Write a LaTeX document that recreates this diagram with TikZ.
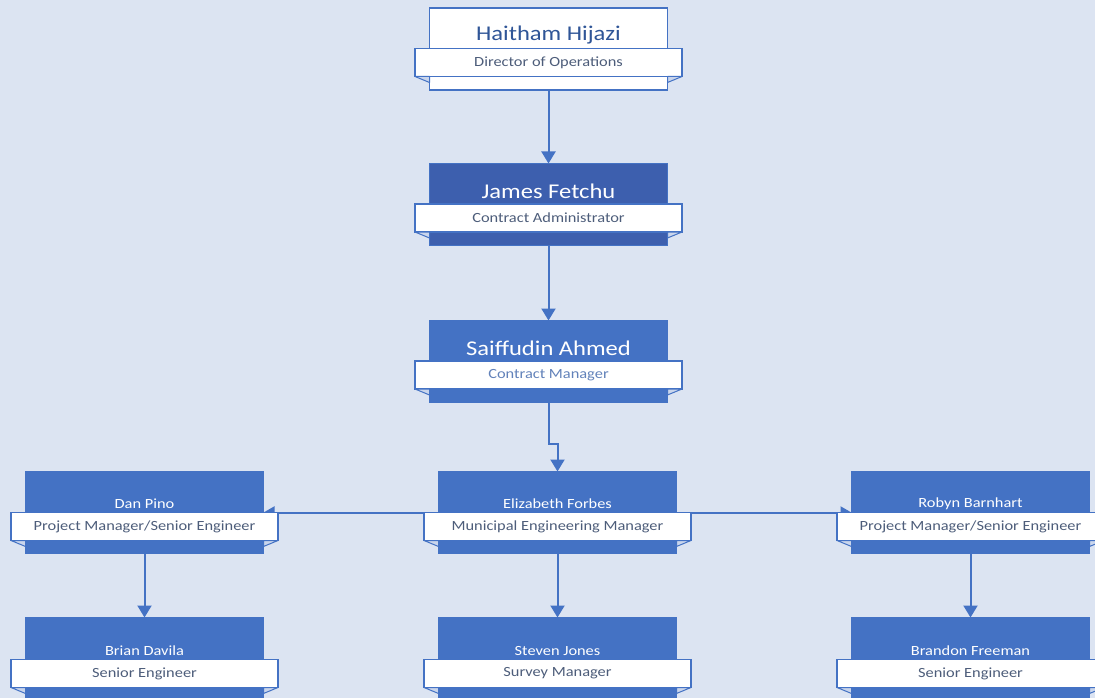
\documentclass[tikz,border=0pt]{standalone}
\usepackage{fontspec}
\setmainfont{Carlito}[FakeStretch=1.17]
\usetikzlibrary{arrows.meta, positioning, calc}
\definecolor{bgblue}{HTML}{DCE4F2}
\definecolor{cardblue}{HTML}{4472C4}
\definecolor{darkcard}{HTML}{3D5FAE}
\definecolor{namecol}{HTML}{2F5597}
\definecolor{titlecol}{HTML}{4D5D7A}
\definecolor{lighttitle}{HTML}{6282BA}
\definecolor{foldcol}{HTML}{C9D5EC}

\begin{document}
\begin{tikzpicture}[x=1pt, y=-1pt,
  card/.style={draw=cardblue, fill=cardblue, minimum width=238pt, minimum height=82pt, inner sep=0pt, outer sep=0pt},
  banner/.style={draw=cardblue, fill=white, line width=1.3pt, minimum width=267pt, minimum height=28pt, inner sep=0pt, outer sep=0pt, text=titlecol, font=\fontsize{14}{16}\selectfont},
  bigname/.style={text=white, font=\fontsize{21}{24}\selectfont},
  smallname/.style={text=white, font=\fontsize{14}{16}\selectfont},
  fold/.style={draw=cardblue, fill=foldcol, line width=1pt, line join=round},
  arrow/.style={-{Triangle[length=12pt, width=14pt]}, draw=cardblue, line width=2pt},
  sidearrow/.style={-{Triangle[length=11pt, width=12pt]}, draw=cardblue, line width=2pt}
]
\useasboundingbox (0,0) rectangle (1095,698);
\clip (0,0) rectangle (1095,698);
\fill[bgblue] (0,0) rectangle (1095,698);

% cards
\node[card, fill=white, line width=1.5pt] (hh) at (548.5,49) {};
\node[card, fill=darkcard] (jf) at (548.5,204.5) {};
\node[card] (sa) at (548.5,361.5) {};
\node[card] (dp) at (144.5,512.5) {};
\node[card] (ef) at (557.5,512.5) {};
\node[card] (rb) at (970.5,512.5) {};
\node[card] (bd) at (144.5,658.5) {};
\node[card] (sj) at (557.5,658.5) {};
\node[card] (bf) at (970.5,658.5) {};

% connectors
\draw[arrow] (hh) -- (jf);
\draw[arrow] (jf) -- (sa);
\draw[arrow] (sa.south) -- ++(0,41) -| (ef.north);
\draw[sidearrow] (ef.west) -- (dp.east);
\draw[sidearrow] (ef.east) -- (rb.west);
\draw[arrow] (dp) -- (bd);
\draw[arrow] (ef) -- (sj);
\draw[arrow] (rb) -- (bf);

% role banners
\node[banner] (hhrole) at (548.5,62.5) {Director of Operations};
\node[banner] (jfrole) at (548.5,218) {Contract Administrator};
\node[banner, text=lighttitle] (sarole) at (548.5,375) {Contract Manager};
\node[banner] (dprole) at (144.5,526.5) {Project Manager/Senior Engineer};
\node[banner] (efrole) at (557.5,526.5) {Municipal Engineering Manager};
\node[banner] (rbrole) at (970.5,526.5) {Project Manager/Senior Engineer};
\node[banner] (bdrole) at (144.5,673.5) {Senior Engineer};
\node[banner] (sjrole) at (557.5,673.5) {Survey Manager};
\node[banner] (bfrole) at (970.5,673.5) {Senior Engineer};

% ribbon folds
\foreach \c/\b in {hh/hhrole, jf/jfrole, sa/sarole, dp/dprole, ef/efrole, rb/rbrole, bd/bdrole, sj/sjrole, bf/bfrole} {
  \draw[fold] (\b.south west) -- (\c.west |- \b.south) -- ($(\c.west |- \b.south)+(0,6)$) -- cycle;
  \draw[fold] (\b.south east) -- (\c.east |- \b.south) -- ($(\c.east |- \b.south)+(0,6)$) -- cycle;
}

% names
\node[bigname, text=namecol] (hhname) at (548.5,35.5) {Haitham Hijazi};
\node[bigname] (jfname) at (548.5,191.5) {James Fetchu};
\node[bigname] (saname) at (548.5,348) {Saiffudin Ahmed};
\node[smallname] (dpname) at (144.5,504) {Dan Pino};
\node[smallname] (efname) at (557.5,504) {Elizabeth Forbes};
\node[smallname] (rbname) at (970.5,504) {Robyn Barnhart};
\node[smallname] (bdname) at (144.5,651) {Brian Davila};
\node[smallname] (sjname) at (557.5,651) {Steven Jones};
\node[smallname] (bfname) at (970.5,651) {Brandon Freeman};
\end{tikzpicture}
\end{document}
